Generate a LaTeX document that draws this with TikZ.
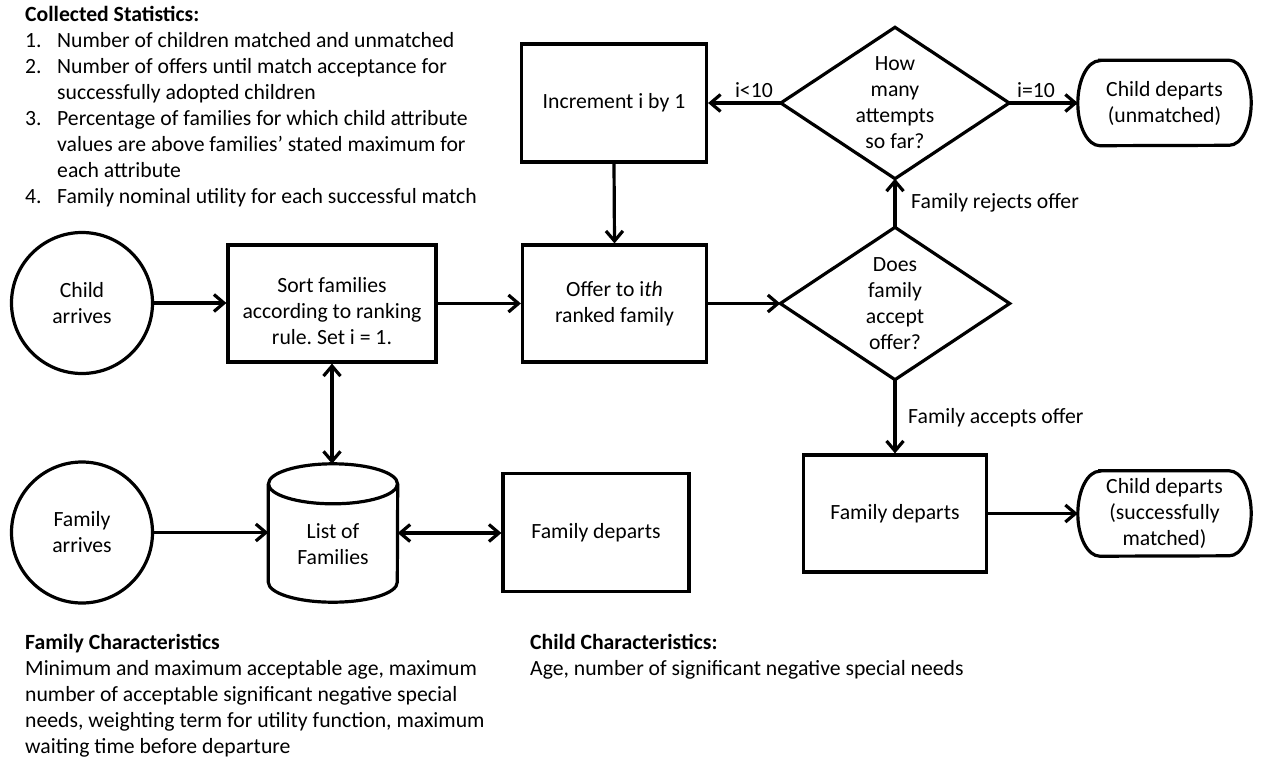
\documentclass[tikz,border=0pt]{standalone}
\usepackage{fontspec}
\setmainfont{Carlito}
\usetikzlibrary{arrows.meta,calc}
\frenchspacing
\begin{document}
\begin{tikzpicture}[x=1pt,y=-1pt,
  every node/.style={font=\fontsize{21.7}{26}\selectfont},
  txt/.style={inner sep=0pt,anchor=base west},
  bold/.style={font=\fontsize{21.7}{26}\selectfont\bfseries},
  shp/.style={line width=3.2pt},
  box/.style={draw,rectangle,line width=3.2pt,align=center,inner sep=0pt},
  circ/.style={draw,circle,line width=3.2pt,minimum size=141pt,align=center,inner sep=0pt},
  hold/.style={rectangle,align=center,inner sep=0pt},
  arr/.style={line width=3.2pt,-{Straight Barb[length=10pt,width=17pt]}},
  dblarr/.style={line width=3.2pt,{Straight Barb[length=10pt,width=17pt]}-{Straight Barb[length=10pt,width=17pt]}}
]
\useasboundingbox (0,0) rectangle (1263,763);

% Collected statistics
\node[txt,bold] (cst) at (25,21) {Collected Statistics:};
\node[txt] (n1) at (25,47) {1.};
\node[txt] (t1) at (57,47) {Number of children matched and unmatched};
\node[txt] (n2) at (25,73) {2.};
\node[txt] (t2a) at (57,73) {Number of offers until match acceptance for};
\node[txt] (t2b) at (57,99) {successfully adopted children};
\node[txt] (n3) at (25,125) {3.};
\node[txt] (t3a) at (57,125) {Percentage of families for which child attribute};
\node[txt] (t3b) at (57,151) {values are above families’ stated maximum for};
\node[txt] (t3c) at (57,177) {each attribute};
\node[txt] (n4) at (25,203) {4.};
\node[txt] (t4) at (57,203) {Family nominal utility for each successful match};

% Family characteristics
\node[txt,bold] (fc) at (25,649) {Family Characteristics};
\node[txt] (f1) at (25,675) {Minimum and maximum acceptable age, maximum};
\node[txt] (f2) at (25,701) {number of acceptable significant negative special};
\node[txt] (f3) at (25,727) {needs, weighting term for utility function, maximum};
\node[txt] (f4) at (25,753) {waiting time before departure};

% Child characteristics
\node[txt,bold] (cc) at (530,649) {Child Characteristics:};
\node[txt] (c1) at (530,675) {Age, number of significant negative special needs};

% Shapes
\node[circ] (child) at (82,303) {Child\\arrives};
\node[box,minimum width=208pt,minimum height=117pt] (sort) at (332,303.5) {};
\node[hold] (sorttxt) at (332,311) {Sort families\\according to ranking\\rule. Set i = 1.};
\node[box,minimum width=184pt,minimum height=117pt] (offer) at (614.5,303.5) {Offer to i\textit{th}\\ranked family};
\node[box,minimum width=185pt,minimum height=118pt] (inc) at (614,103) {Increment i by 1};

\node[hold,minimum width=228pt,minimum height=151pt] (hm) at (895,103) {How\\many\\attempts\\so far?};
\draw[shp] (hm.west) -- (hm.north) -- (hm.east) -- (hm.south) -- cycle;
\node[hold,minimum width=229pt,minimum height=152pt] (does) at (895,303.5) {Does\\family\\accept\\offer?};
\draw[shp] (does.west) -- (does.north) -- (does.east) -- (does.south) -- cycle;

\node[hold,minimum width=173pt,minimum height=85pt] (unm) at (1164.5,103) {Child departs\\(unmatched)};
\draw[shp] ($(unm.north west)+(22,0)$) -- ($(unm.north east)+(-22,0)$)
  arc[start angle=-90,end angle=90,x radius=22,y radius=42.5]
  -- ($(unm.south west)+(22,0)$)
  arc[start angle=90,end angle=270,x radius=22,y radius=42.5] -- cycle;

\node[box,minimum width=183pt,minimum height=117pt] (fd2) at (895,513.5) {Family departs};
\node[hold,minimum width=173pt,minimum height=85pt] (mat) at (1164.5,513.5) {Child departs\\(successfully\\matched)};
\draw[shp] ($(mat.north west)+(22,0)$) -- ($(mat.north east)+(-22,0)$)
  arc[start angle=-90,end angle=90,x radius=22,y radius=42.5]
  -- ($(mat.south west)+(22,0)$)
  arc[start angle=90,end angle=270,x radius=22,y radius=42.5] -- cycle;

\node[circ] (famarr) at (82,532.5) {Family\\arrives};
\node[hold,minimum width=129pt,minimum height=138pt] (list) at (333,533) {};
\draw[shp] ($(list.north)+(0,20)$) ellipse [x radius=64.5,y radius=20];
\draw[shp] ($(list.north west)+(0,20)$) -- ($(list.south west)+(0,-20)$)
  arc[start angle=180,end angle=0,x radius=64.5,y radius=20]
  -- ($(list.north east)+(0,20)$);
\node[hold] (listtxt) at (333,544) {List of\\Families};
\node[box,minimum width=186pt,minimum height=118pt] (fd1) at (596,532.5) {Family departs};

% Connectors
\draw[arr] (child.east) -- (child.east -| sort.west);
\draw[arr] (sort.east) -- (offer.west);
\draw[arr] (offer.east) -- (does.west);
\draw[arr] (does.north) -- (hm.south);
\draw[arr] (hm.west) -- (inc.east);
\draw[arr] (hm.east) -- (unm.west);
\draw[arr] (inc.south) -- (offer.north);
\draw[arr] (does.south) -- (fd2.north);
\draw[arr] (fd2.east) -- (mat.west);
\draw[arr] (famarr.east) -- (famarr.east -| list.west);
\draw[dblarr] (list.east) -- (list.east -| fd1.west);
\draw[dblarr] (sort.south) -- (sort.south |- list.north);

% Connector labels
\node[inner sep=0pt,anchor=base east] (lt10) at (773,97) {i<10};
\node[txt] (eq10) at (1017,97) {i=10};
\node[txt] (rej) at (911,208) {Family rejects offer};
\node[txt] (acc) at (908,423) {Family accepts offer};
\end{tikzpicture}
\end{document}
